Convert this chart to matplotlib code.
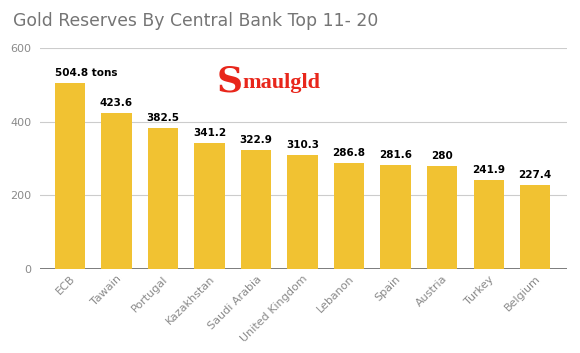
import matplotlib.pyplot as plt
import numpy as np

countries = ['ECB', 'Tawain', 'Portugal', 'Kazakhstan', 'Saudi Arabia', 'United Kingdom',
             'Lebanon', 'Spain', 'Austria', 'Turkey', 'Belgium']
tons = [504.8, 423.6, 382.5, 341.2, 322.9, 310.3, 286.8, 281.6, 280, 241.9, 227.4]
labels = ['504.8 tons', '423.6', '382.5', '341.2', '322.9', '310.3', '286.8', '281.6', '280', '241.9', '227.4']

fig = plt.figure(figsize=(5.8, 3.53), dpi=100)
ax = fig.add_axes([0.069, 0.238, 0.909, 0.626])

x = np.arange(len(countries))
bars = ax.bar(x, tons, width=0.65, color='#F1C232', zorder=3)

for i in range(len(x)):
    if i == 0:
        ax.text(x[i] - 0.33, tons[i] + 14, labels[i], ha='left', va='bottom',
                fontsize=7.5, fontweight='bold', color='black', zorder=4)
    else:
        ax.text(x[i], tons[i] + 14, labels[i], ha='center', va='bottom',
                fontsize=7.5, fontweight='bold', color='black', zorder=4)

ax.set_ylim(0, 600)
ax.set_xlim(-0.645, 10.69)
ax.set_yticks([0, 200, 400, 600])
for yv in [200, 400, 600]:
    ax.axhline(yv, color='#cccccc', linewidth=0.8, zorder=1)
ax.axhline(0, color='#666666', linewidth=1.2, zorder=2)

for s in ax.spines.values():
    s.set_visible(False)
ax.tick_params(axis='both', length=0, colors='#8a8a8a', labelsize=8)
ax.tick_params(axis='y', pad=6)
ax.set_xticks(x)
ax.set_xticklabels(countries, rotation=45, ha='right', rotation_mode='anchor')

fig.text(0.022, 0.94, 'Gold Reserves By Central Bank Top 11- 20', fontsize=12.4,
         color='#757575', va='center')

# logo
fig.text(0.374, 0.77, 'S', fontsize=26, color='#e8261b', fontweight='bold',
         family='DejaVu Serif', va='center')
fig.text(0.418, 0.765, 'maulgld', fontsize=16, color='#e8261b', fontweight='bold',
         family='Liberation Serif', va='center')

fig.savefig('out.png', dpi=100)
